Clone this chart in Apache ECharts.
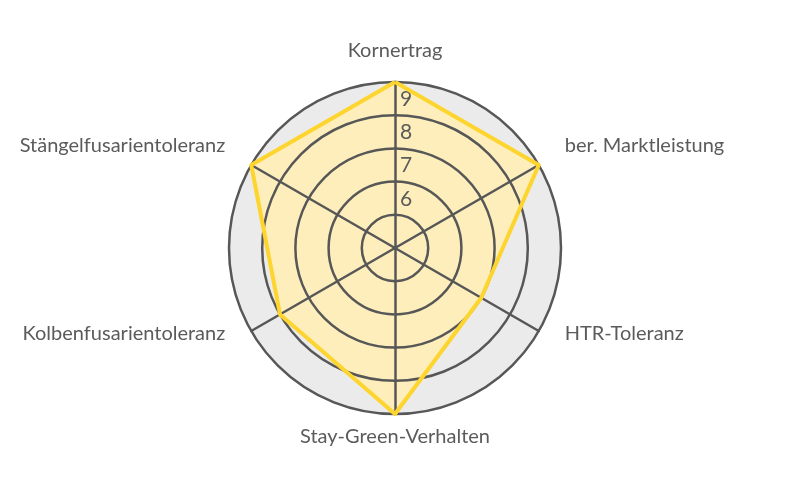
<!DOCTYPE html>
<html>
<head>
<meta charset="utf-8">
<script src="https://cdn.jsdelivr.net/npm/echarts@6/dist/echarts.min.js"></script>
<style>
  html, body { margin: 0; padding: 0; background: #fff; }
  #chart { width: 791px; height: 500px; }
</style>
</head>
<body>
<div id="chart"></div>
<script>
// Kategorien (Achsen) im Uhrzeigersinn ab oben
const merkmale = ['Kornertrag', 'ber. Marktleistung', 'HTR-Toleranz', 'Stay-Green-Verhalten', 'Kolbenfusarientoleranz', 'Stängelfusarientoleranz'];
// Bewertungen
const werte = [10, 10, 8, 10, 9, 10];
// Skala
const skalaMin = 5;
const skalaMax = 10;
const tickLabels = ['6', '7', '8', '9'];

// Abstand / Verschiebung der Achsennamen
const nameGaps = [21, 30, 30, 13, 30, 30];
const namePad = [[0, 0, 0, 0], [0, 0, 8, 0], [0, 0, 24, 0], [0, 0, 0, 0], [0, 0, 24, 0], [0, 0, 8, 0]];

// ECharts zeichnet gegen den Uhrzeigersinn -> Reihenfolge umdrehen (Kornertrag bleibt oben)
const reihenfolge = [0, 5, 4, 3, 2, 1];
const werteSortiert = reihenfolge.map(function (i) { return werte[i]; });

const chart = echarts.init(document.getElementById('chart'));

const indicator = reihenfolge.map(function (i) {
    const ind = { name: merkmale[i], min: skalaMin, max: skalaMax, nameGap: nameGaps[i] };
    if (i === 0) {
        ind.axisLabel = {
            show: true,
            color: '#5b5b5b',
            fontSize: 21,
            fontFamily: 'Lato',
            margin: -5,
            align: 'left',
            formatter: function (v) {
                return tickLabels.indexOf(String(v)) >= 0 ? '{t|' + v + '}' : '';
            },
            rich: {
                t: { fontSize: 21, fontFamily: 'Lato', color: '#5b5b5b', padding: [0, 0, 32, 0] }
            }
        };
    }
    return ind;
});

const rich = {};
merkmale.forEach(function (m, i) {
    rich['n' + i] = { fontSize: 20, fontFamily: 'Lato', color: '#5b5b5b', padding: namePad[i] };
});

chart.setOption({
    animation: false,
    radar: [{
        // Gitter und Achsen
        z: 3,
        center: [395, 248],
        radius: 166,
        startAngle: 90,
        shape: 'circle',
        splitNumber: 5,
        indicator: indicator,
        axisName: {
            color: '#5b5b5b',
            fontSize: 20,
            fontFamily: 'Lato',
            formatter: function (name) {
                return '{n' + merkmale.indexOf(name) + '|' + name + '}';
            },
            rich: rich
        },
        axisLine: { lineStyle: { color: '#575757', width: 2.5 } },
        splitLine: { lineStyle: { color: '#575757', width: 2.5 } },
        splitArea: { show: false },
        axisLabel: { show: false }
    }, {
        // grauer Hintergrund
        z: 0,
        center: [395, 248],
        radius: 166,
        startAngle: 90,
        shape: 'circle',
        splitNumber: 5,
        indicator: reihenfolge.map(function () { return { name: '', min: skalaMin, max: skalaMax }; }),
        axisName: { show: false },
        axisLine: { show: false },
        splitLine: { show: false },
        splitArea: { show: true, areaStyle: { color: ['#ebebeb'] } },
        axisLabel: { show: false }
    }],
    series: [{
        // Fläche unter dem Gitter
        type: 'radar',
        radarIndex: 0,
        z: 2,
        symbol: 'none',
        lineStyle: { width: 0, opacity: 0 },
        areaStyle: { color: '#fdeebb', opacity: 1 },
        data: [{ value: werteSortiert, name: 'Bewertung' }]
    }, {
        // Linie über dem Gitter
        type: 'radar',
        radarIndex: 0,
        z: 4,
        symbol: 'none',
        lineStyle: { color: '#fdd52e', width: 4 },
        data: [{ value: werteSortiert, name: 'Bewertung' }]
    }]
});
</script>
</body>
</html>
